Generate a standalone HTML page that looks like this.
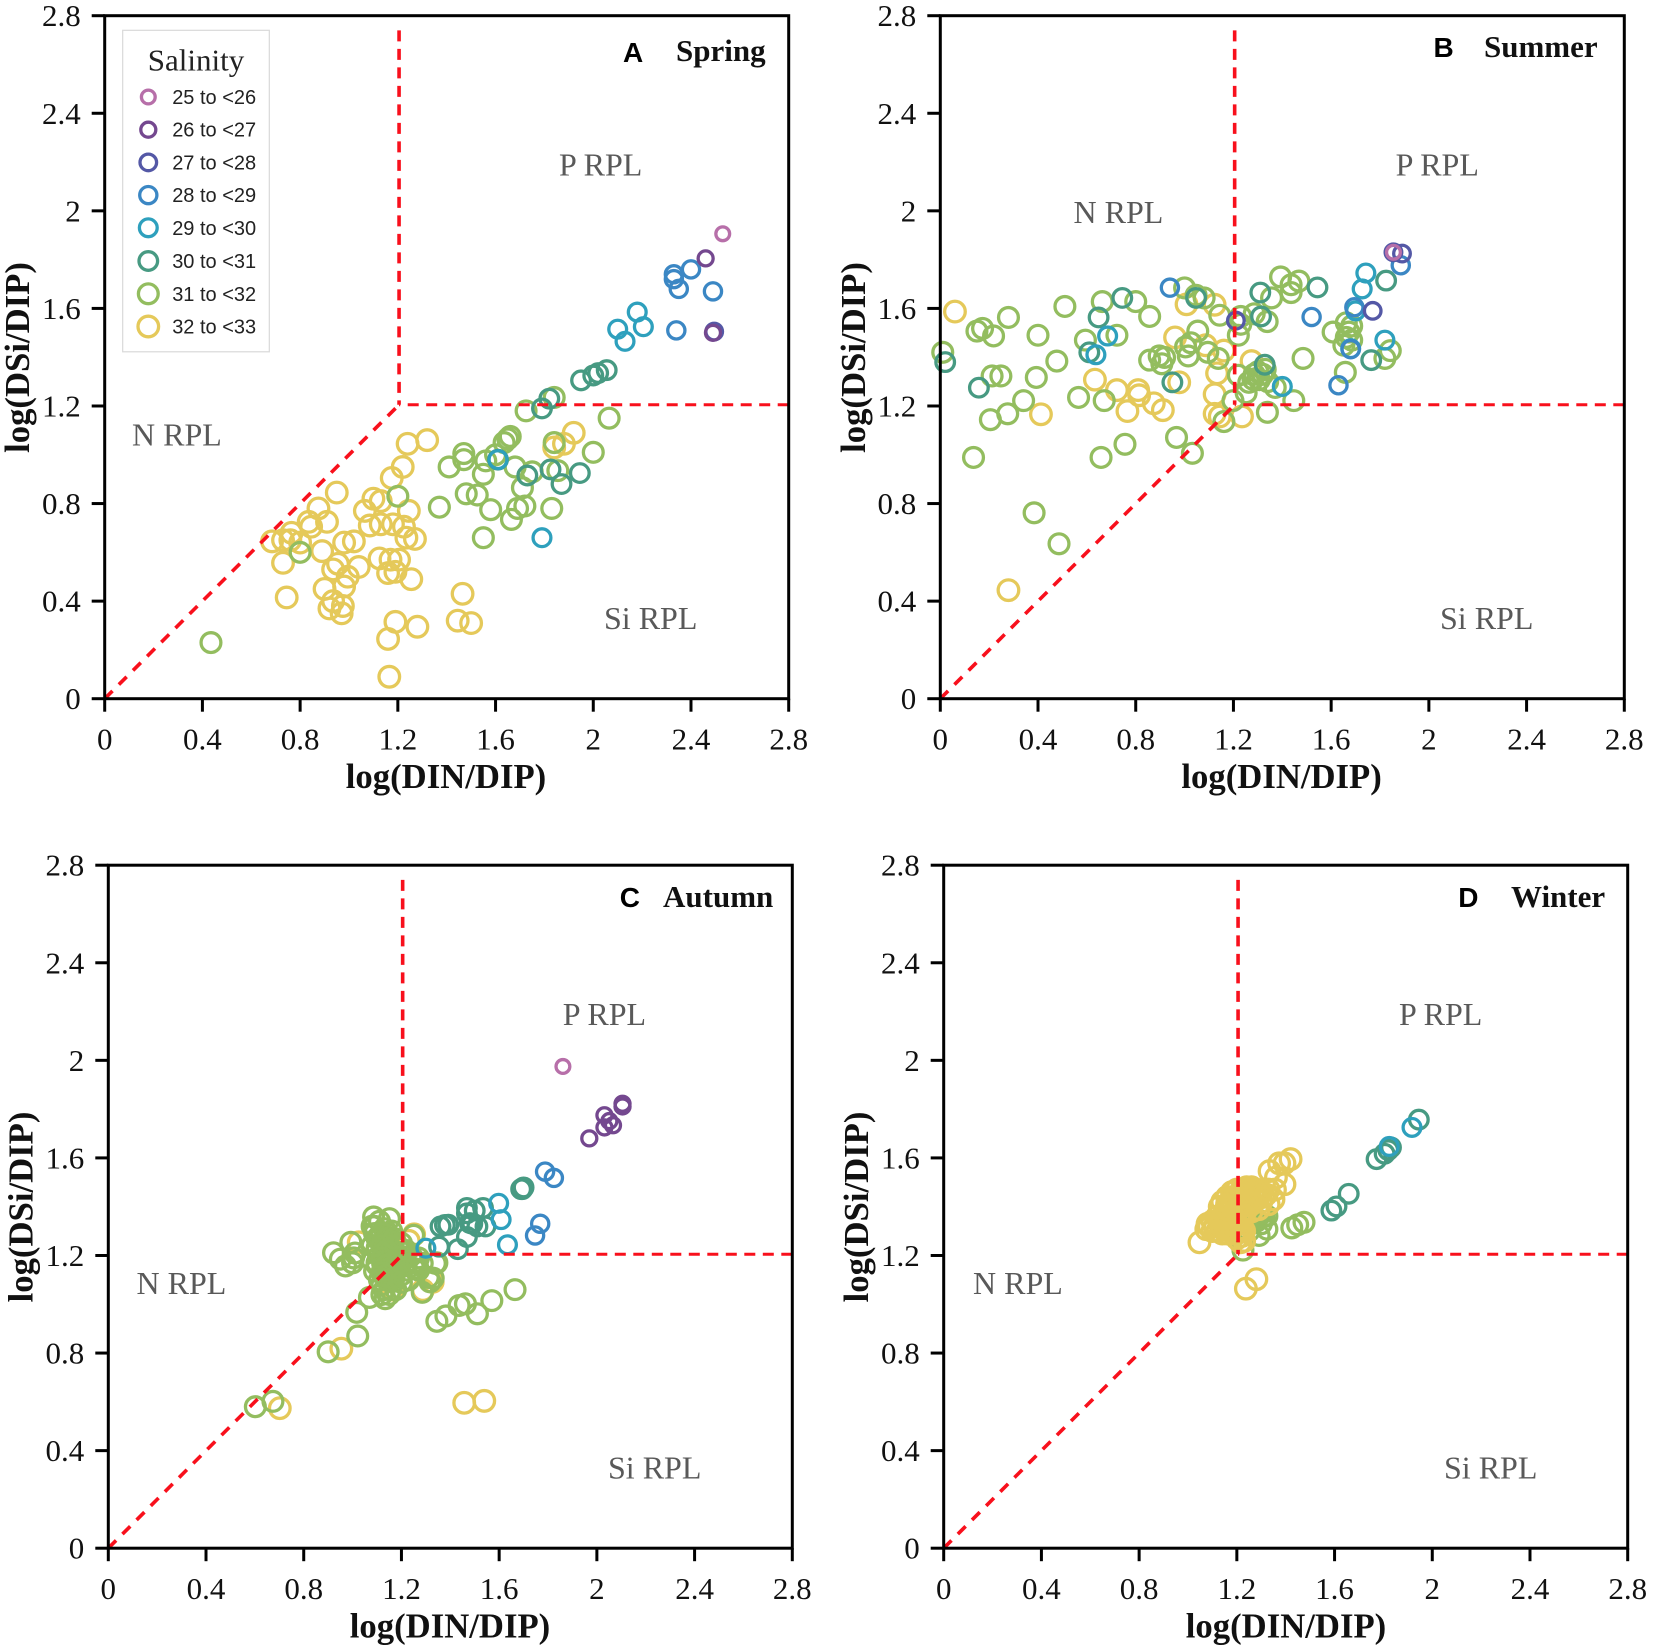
<!DOCTYPE html>
<html lang="en">
<head>
<meta charset="utf-8">
<title>N:P:Si limitation scatter by season</title>
<style>
html,body{margin:0;padding:0;background:#fff;width:1654px;height:1652px;overflow:hidden}
svg{display:block}
text{font-family:"Liberation Serif",serif}
.tick{font-size:31px;fill:#111}
.axt{font-size:34.7px;font-weight:bold;fill:#111}
.reg{font-size:32px;fill:#595959}
.sea{font-size:31px;font-weight:bold;fill:#111}
.let{font-family:"Liberation Sans",sans-serif;font-size:28px;font-weight:bold;fill:#000}
.leg{font-family:"Liberation Sans",sans-serif;font-size:20px;fill:#222}
</style>
</head>
<body>
<svg id="chart" xmlns="http://www.w3.org/2000/svg" width="1654" height="1652" viewBox="0 0 1654 1652">
<g id="panelA">
 <text class="let" x="623" y="62">A</text>
 <text class="sea" x="676" y="61">Spring</text>
 <text class="reg" x="559" y="175.5">P RPL</text>
 <text class="reg" x="132" y="445.5">N RPL</text>
 <text class="reg" x="604" y="629">Si RPL</text>
 <text class="axt" x="446" y="788" text-anchor="middle">log(DIN/DIP)</text>
 <text class="axt" transform="translate(29 357.5) rotate(-90)" text-anchor="middle">log(DSi/DIP)</text>
</g>
<g id="panelB">
 <text class="let" x="1433.5" y="57">B</text>
 <text class="sea" x="1484" y="57">Summer</text>
 <text class="reg" x="1395.6" y="175.5">P RPL</text>
 <text class="reg" x="1073.5" y="223">N RPL</text>
 <text class="reg" x="1440" y="629">Si RPL</text>
 <text class="axt" x="1281.6" y="788" text-anchor="middle">log(DIN/DIP)</text>
 <text class="axt" transform="translate(865 357.5) rotate(-90)" text-anchor="middle">log(DSi/DIP)</text>
</g>
<g id="panelC">
 <text class="let" x="619.7" y="907">C</text>
 <text class="sea" x="663" y="907">Autumn</text>
 <text class="reg" x="562.8" y="1025">P RPL</text>
 <text class="reg" x="136.5" y="1294">N RPL</text>
 <text class="reg" x="608" y="1478.5">Si RPL</text>
 <text class="axt" x="450" y="1637.5" text-anchor="middle">log(DIN/DIP)</text>
 <text class="axt" transform="translate(32.6 1207) rotate(-90)" text-anchor="middle">log(DSi/DIP)</text>
</g>
<g id="panelD">
 <text class="let" x="1458.3" y="907">D</text>
 <text class="sea" x="1511" y="907">Winter</text>
 <text class="reg" x="1399" y="1025">P RPL</text>
 <text class="reg" x="973" y="1294">N RPL</text>
 <text class="reg" x="1444" y="1478.5">Si RPL</text>
 <text class="axt" x="1286" y="1637.5" text-anchor="middle">log(DIN/DIP)</text>
 <text class="axt" transform="translate(868 1207) rotate(-90)" text-anchor="middle">log(DSi/DIP)</text>
</g>
<g id="legendBox">
 <rect x="122.7" y="30.3" width="146.6" height="321.5" fill="#fff" stroke="#d9d9d9" stroke-width="1.2"/>
 <text x="196" y="70.7" text-anchor="middle" font-size="31" fill="#222">Salinity</text>
 <text class="leg" x="172.2" y="104">25 to &lt;26</text>
 <text class="leg" x="172.2" y="136.7">26 to &lt;27</text>
 <text class="leg" x="172.2" y="169.4">27 to &lt;28</text>
 <text class="leg" x="172.2" y="202.1">28 to &lt;29</text>
 <text class="leg" x="172.2" y="234.8">29 to &lt;30</text>
 <text class="leg" x="172.2" y="268">30 to &lt;31</text>
 <text class="leg" x="172.2" y="300.8">31 to &lt;32</text>
 <text class="leg" x="172.2" y="333.5">32 to &lt;33</text>
</g>
</svg>
<script>
const tickValues = [0, 0.4, 0.8, 1.2, 1.6, 2, 2.4, 2.8];
const tickLabels = ["0", "0.4", "0.8", "1.2", "1.6", "2", "2.4", "2.8"];
const axisMax = 2.8;
const redfieldCorner = 1.205;
const verticalGuideTop = 2.74;

const salinityClasses = ["25 to <26","26 to <27","27 to <28","28 to <29","29 to <30","30 to <31","31 to <32","32 to <33"];

const spring25 = [[2.53,1.906]];
const spring26 = [[2.46,1.805],[2.49,1.5]];
const spring27 = [[2.495,1.505]];
const spring28 = [[2.33,1.74],[2.33,1.72],[2.35,1.68],[2.40,1.76],[2.49,1.67],[2.34,1.51]];
const spring29 = [[2.10,1.515],[2.13,1.465],[2.18,1.585],[2.205,1.525],[1.79,0.66],[1.61,0.98]];
const spring30 = [[1.95,1.305],[2.0,1.325],[2.02,1.335],[2.055,1.347],[1.82,1.23],[1.79,1.19],[1.61,0.98],[1.73,0.915],[1.825,0.94],[1.87,0.88],[1.945,0.925]];
const spring31 = [[0.435,0.23],[0.80,0.60],[1.20,0.83],[1.37,0.785],[1.41,0.95],[1.47,1.005],[1.47,0.98],[1.48,0.84],[1.525,0.835],[1.58,0.775],[1.55,0.66],[1.55,0.92],[1.56,0.975],[1.60,1.0],[1.635,1.05],[1.65,1.065],[1.66,1.075],[1.68,0.95],[1.71,0.865],[1.665,0.735],[1.69,0.78],[1.72,0.79],[1.75,0.93],[1.83,0.78],[1.855,0.935],[2.0,1.01],[2.065,1.15],[1.725,1.18],[1.84,1.235],[1.84,1.05]];
const spring32 = [[0.685,0.645],[0.73,0.65],[0.765,0.68],[0.76,0.65],[0.73,0.557],[0.745,0.415],[0.80,0.64],[0.835,0.725],[0.845,0.705],[0.875,0.78],[0.91,0.725],[0.89,0.605],[0.95,0.845],[0.98,0.64],[1.02,0.645],[0.955,0.553],[0.935,0.53],[0.995,0.5],[0.98,0.46],[1.04,0.54],[0.90,0.45],[0.935,0.40],[0.92,0.37],[0.975,0.38],[0.97,0.35],[1.065,0.77],[1.10,0.82],[1.13,0.81],[1.085,0.71],[1.13,0.715],[1.18,0.715],[1.175,0.905],[1.22,0.95],[1.24,1.045],[1.32,1.06],[1.245,0.77],[1.225,0.705],[1.235,0.66],[1.27,0.655],[1.125,0.575],[1.17,0.57],[1.205,0.57],[1.16,0.515],[1.19,0.52],[1.255,0.49],[1.16,0.245],[1.19,0.315],[1.28,0.295],[1.165,0.09],[1.465,0.43],[1.445,0.32],[1.50,0.31],[1.92,1.09],[1.84,1.03],[1.88,1.045]];

const summer25 = [[1.855,1.83]];
const summer26 = [];
const summer27 = [[1.21,1.55],[1.77,1.59],[1.89,1.825],[1.855,1.83]];
const summer28 = [[0.94,1.685],[1.52,1.565],[1.63,1.285],[1.68,1.433],[1.695,1.605],[1.885,1.777]];
const summer29 = [[0.685,1.487],[0.637,1.41],[1.742,1.745],[1.727,1.68],[1.70,1.59],[1.82,1.47],[1.40,1.28],[1.68,1.435]];
const summer30 = [[0.02,1.38],[0.158,1.275],[0.61,1.42],[0.648,1.563],[0.745,1.643],[1.31,1.665],[1.313,1.567],[1.544,1.686],[1.825,1.714],[1.764,1.388],[1.328,1.369],[1.047,1.643],[0.95,1.297]];
const summer31 = [[0.01,1.42],[0.15,1.507],[0.173,1.518],[0.218,1.487],[0.279,1.563],[0.40,1.49],[0.51,1.608],[0.594,1.47],[0.663,1.628],[0.80,1.628],[0.857,1.567],[0.723,1.49],[0.136,0.989],[0.205,1.144],[0.276,1.168],[0.341,1.222],[0.212,1.323],[0.248,1.323],[0.393,1.317],[0.477,1.384],[0.566,1.235],[0.671,1.222],[0.658,0.989],[0.756,1.043],[0.384,0.762],[0.486,0.635],[0.857,1.388],[0.896,1.405],[0.918,1.399],[0.907,1.373],[0.967,1.071],[1.032,1.006],[1.0,1.684],[1.047,1.654],[1.08,1.643],[1.054,1.507],[1.004,1.442],[1.026,1.459],[1.015,1.405],[1.095,1.42],[1.138,1.395],[1.144,1.572],[1.22,1.49],[1.23,1.535],[1.23,1.567],[1.198,1.222],[1.161,1.136],[1.22,1.326],[1.252,1.254],[1.263,1.297],[1.285,1.33],[1.306,1.308],[1.338,1.546],[1.285,1.578],[1.339,1.174],[1.371,1.276],[1.447,1.222],[1.356,1.643],[1.393,1.729],[1.436,1.697],[1.436,1.665],[1.468,1.712],[1.485,1.395],[1.608,1.503],[1.662,1.541],[1.684,1.528],[1.662,1.481],[1.673,1.503],[1.684,1.47],[1.652,1.449],[1.658,1.338],[1.82,1.395],[1.842,1.427],[1.30,1.34],[1.32,1.33],[1.28,1.31],[1.34,1.30],[1.33,1.35]];
const summer32 = [[0.06,1.587],[0.279,0.445],[0.412,1.166],[0.633,1.308],[0.723,1.265],[0.766,1.179],[0.81,1.265],[0.814,1.244],[0.874,1.211],[0.911,1.183],[0.961,1.481],[0.978,1.297],[1.008,1.617],[1.123,1.615],[1.086,1.449],[1.161,1.427],[1.133,1.334],[1.123,1.248],[1.123,1.168],[1.144,1.157],[1.235,1.157],[1.274,1.384]];

const autumn25 = [[1.861,1.975]];
const autumn26 = [[1.969,1.68],[2.031,1.725],[2.031,1.775],[2.051,1.751],[2.066,1.734],[2.105,1.822],[2.105,1.811]];
const autumn27 = [];
const autumn28 = [[1.788,1.544],[1.824,1.518],[1.747,1.282],[1.768,1.33]];
const autumn29 = [[1.598,1.414],[1.608,1.347],[1.634,1.244],[1.30,1.23]];
const autumn30 = [[1.36,1.319],[1.392,1.326],[1.378,1.325],[1.468,1.395],[1.468,1.373],[1.50,1.384],[1.49,1.33],[1.511,1.319],[1.544,1.319],[1.534,1.395],[1.695,1.472],[1.69,1.472],[1.70,1.479],[1.468,1.276],[1.431,1.226],[1.354,1.236],[1.48,1.333]];
const autumn31 = [[1.086,1.358],[1.151,1.351],[0.922,1.211],[0.993,1.254],[0.971,1.157],[1.004,1.19],[0.95,1.185],[1.09,1.319],[1.112,1.276],[1.144,1.287],[1.166,1.254],[1.101,1.233],[1.133,1.211],[1.177,1.211],[1.198,1.19],[1.155,1.168],[1.123,1.168],[1.09,1.136],[1.22,1.168],[1.252,1.146],[1.285,1.168],[1.339,1.168],[1.317,1.092],[1.285,1.049],[1.155,1.06],[1.133,1.023],[1.177,1.06],[1.069,1.028],[1.017,0.967],[1.021,0.87],[0.90,0.805],[0.602,0.58],[0.674,0.602],[1.345,0.93],[1.382,0.952],[1.436,0.995],[1.462,1.002],[1.511,0.961],[1.57,1.015],[1.665,1.06],[1.11,1.34],[1.13,1.31],[1.16,1.30],[1.12,1.25],[1.15,1.24],[1.14,1.19],[1.17,1.18],[1.19,1.23],[1.11,1.2],[1.13,1.15],[1.16,1.13],[1.19,1.15],[1.10,1.17],[1.21,1.21],[1.14,1.1],[1.12,1.08],[1.2,1.12],[1.24,1.2],[1.01,1.21],[1.0,1.17],[1.27,1.19],[1.08,1.32],[1.09,1.29],[1.1,1.27],[1.12,1.29],[1.14,1.27],[1.08,1.24],[1.1,1.22],[1.12,1.24],[1.14,1.22],[1.16,1.2],[1.08,1.18],[1.1,1.16],[1.12,1.19],[1.14,1.16],[1.16,1.15],[1.18,1.17],[1.12,1.13],[1.14,1.12],[1.17,1.11],[1.13,1.06],[1.15,1.04],[1.12,1.04],[1.11,1.1],[1.25,1.283],[1.264,1.168],[1.31,1.11],[1.33,1.107],[1.345,1.17],[1.22,1.14],[1.2,1.09],[1.2,1.25],[1.22,1.22],[1.25,1.17],[1.27,1.14],[1.2,1.17],[1.23,1.1],[1.17,1.27]];
const autumn32 = [[0.702,0.574],[0.954,0.818],[1.457,0.596],[1.539,0.604],[1.252,1.287],[1.025,1.254],[1.288,1.058],[1.328,1.092],[1.23,1.26],[1.166,1.06]];

const winter25 = [];
const winter26 = [];
const winter27 = [];
const winter28 = [];
const winter29 = [[1.824,1.647],[1.917,1.725]];
const winter30 = [[1.945,1.757],[1.772,1.595],[1.805,1.617],[1.831,1.643],[1.587,1.384],[1.608,1.401],[1.658,1.453],[1.82,1.632]];
const winter31 = [[1.425,1.313],[1.449,1.326],[1.475,1.336],[1.291,1.282],[1.323,1.308],[1.225,1.222],[1.323,1.362],[1.28,1.351],[1.248,1.33],[1.302,1.373],[1.28,1.34],[1.30,1.33],[1.27,1.36],[1.31,1.36],[1.25,1.30]];
const winter32 = [[1.047,1.254],[1.075,1.308],[1.086,1.319],[1.237,1.064],[1.28,1.103],[1.215,1.254],[1.334,1.546],[1.373,1.578],[1.395,1.578],[1.42,1.595],[1.395,1.492],[1.356,1.47],[1.11,1.32],[1.13,1.33],[1.15,1.31],[1.14,1.29],[1.17,1.30],[1.19,1.29],[1.21,1.31],[1.23,1.30],[1.15,1.36],[1.17,1.38],[1.19,1.36],[1.21,1.35],[1.23,1.37],[1.29,1.39],[1.16,1.41],[1.18,1.43],[1.20,1.41],[1.22,1.40],[1.24,1.42],[1.26,1.41],[1.28,1.43],[1.30,1.42],[1.19,1.46],[1.21,1.45],[1.23,1.47],[1.25,1.46],[1.27,1.47],[1.29,1.46],[1.31,1.44],[1.33,1.41],[1.20,1.27],[1.22,1.28],[1.18,1.34],[1.14,1.42],[1.16,1.44],[1.13,1.40],[1.15,1.38],[1.17,1.41],[1.19,1.44],[1.21,1.43],[1.23,1.44],[1.25,1.44],[1.27,1.45],[1.29,1.44],[1.18,1.46],[1.2,1.47],[1.22,1.47],[1.24,1.48],[1.26,1.48],[1.28,1.47],[1.3,1.46],[1.32,1.45],[1.12,1.36],[1.14,1.35],[1.16,1.35],[1.18,1.35],[1.2,1.33],[1.22,1.33],[1.14,1.31],[1.16,1.29],[1.18,1.31],[1.2,1.29],[1.22,1.31],[1.1,1.3],[1.08,1.33],[1.1,1.34],[1.12,1.3],[1.24,1.39],[1.22,1.37],[1.2,1.39],[1.18,1.4],[1.26,1.38],[1.16,1.39],[1.23,1.26],[1.22,1.28],[1.35,1.43],[1.33,1.47],[1.36,1.52]];

const seriesStroke = ["#b76fa9","#74488f","#5458a6","#3b87c4","#2ea0bd","#479a82","#93bd5f","#e5c95a"];
const seriesRadius = [6.9,7.5,8.3,8.6,8.9,9.3,9.9,10.3];

const NS = "http://www.w3.org/2000/svg";
const plotW = 684, plotH = 683;

function xScale(left, v){ return left + v / axisMax * plotW; }
function yScale(top, v){ return top + plotH - v / axisMax * plotH; }

function line(parent, x1, y1, x2, y2, color, width, dash){
  const l = document.createElementNS(NS, "line");
  l.setAttribute("x1", x1); l.setAttribute("y1", y1);
  l.setAttribute("x2", x2); l.setAttribute("y2", y2);
  l.setAttribute("stroke", color); l.setAttribute("stroke-width", width);
  if (dash) l.setAttribute("stroke-dasharray", dash);
  parent.appendChild(l);
  return l;
}

function drawPanel(id, left, top, series, order){
  const g = document.getElementById(id);
  const marks = document.createElementNS(NS, "g");
  
  
  g.insertBefore(marks, g.firstChild);

  order.forEach(function(idx){
    series[idx].forEach(function(pt){
      const c = document.createElementNS(NS, "circle");
      c.setAttribute("cx", xScale(left, pt[0]));
      c.setAttribute("cy", yScale(top, pt[1]));
      c.setAttribute("r", seriesRadius[idx]);
      c.setAttribute("fill", "none");
      c.setAttribute("stroke", seriesStroke[idx]);
      c.setAttribute("stroke-width", "3.3");
      
      
      marks.appendChild(c);
    });
  });

  const guideColor = "#f8101c";
  const bx = xScale(left, redfieldCorner), by = yScale(top, redfieldCorner);
  const guideV = line(marks, bx, yScale(top, verticalGuideTop), bx, by, guideColor, 3.6, "11 7.5");
  
  
  const guideH = line(marks, xScale(left, axisMax), by, bx, by, guideColor, 3, "11 7.5");
  
  
  const guideD = line(marks, xScale(left, 0), yScale(top, 0), bx, by, guideColor, 3.6, "11 9");
  
  

  const frame = document.createElementNS(NS, "rect");
  frame.setAttribute("x", left); frame.setAttribute("y", top);
  frame.setAttribute("width", plotW); frame.setAttribute("height", plotH);
  frame.setAttribute("fill", "none");
  frame.setAttribute("stroke", "#000");
  frame.setAttribute("stroke-width", "3");
  
  
  marks.appendChild(frame);

  tickValues.forEach(function(v, i){
    const tx = xScale(left, v), ty = yScale(top, v);
    const xt = line(marks, tx, top + plotH, tx, top + plotH + 13, "#000", 3);
    
    
    const yt = line(marks, left - 13, ty, left, ty, "#000", 3);
    
    

    const xl = document.createElementNS(NS, "text");
    xl.setAttribute("class", "tick");
    xl.setAttribute("x", tx);
    xl.setAttribute("y", top + plotH + 51);
    xl.setAttribute("text-anchor", "middle");
    
    
    xl.textContent = tickLabels[i];
    marks.appendChild(xl);

    const yl = document.createElementNS(NS, "text");
    yl.setAttribute("class", "tick");
    yl.setAttribute("x", left - 24);
    yl.setAttribute("y", ty + 10.5);
    yl.setAttribute("text-anchor", "end");
    
    
    yl.textContent = tickLabels[i];
    marks.appendChild(yl);
  });
}

drawPanel("panelA", 104.7, 15.7, [spring25,spring26,spring27,spring28,spring29,spring30,spring31,spring32], [7,6,5,4,3,2,1,0]);
drawPanel("panelB", 940.3, 15.7, [summer25,summer26,summer27,summer28,summer29,summer30,summer31,summer32], [7,6,5,4,3,2,1,0]);
drawPanel("panelC", 108.3, 865.2, [autumn25,autumn26,autumn27,autumn28,autumn29,autumn30,autumn31,autumn32], [7,6,5,4,3,2,1,0]);
drawPanel("panelD", 943.7, 865.2, [winter25,winter26,winter27,winter28,winter29,winter30,winter31,winter32], [6,5,4,3,2,1,0,7]);

const legendGroup = document.getElementById("legendBox");
const legendRows = [97,129.7,162.4,195.1,227.8,261,293.8,326.5];
salinityClasses.forEach(function(name, i){
  const m = document.createElementNS(NS, "circle");
  m.setAttribute("cx", 148.3);
  m.setAttribute("cy", legendRows[i]);
  m.setAttribute("r", seriesRadius[i]);
  m.setAttribute("fill", "none");
  m.setAttribute("stroke", seriesStroke[i]);
  m.setAttribute("stroke-width", "3.3");
  
  
  legendGroup.appendChild(m);
});
</script>
</body>
</html>
